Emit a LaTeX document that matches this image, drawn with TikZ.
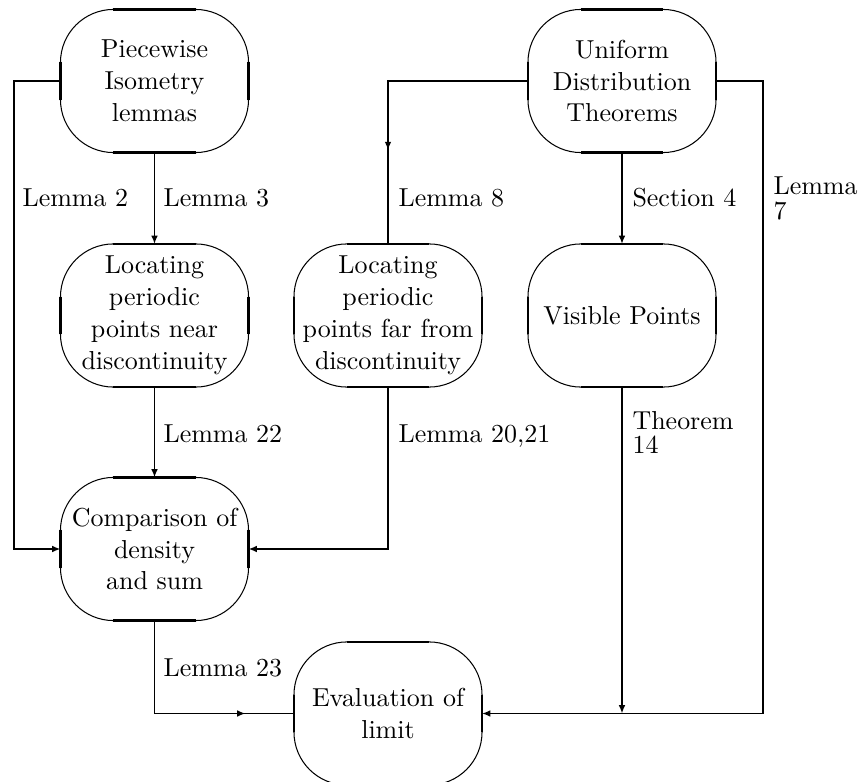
\documentclass[tikz,border=0pt]{standalone}
\usetikzlibrary{arrows.meta,decorations.markings}
\begin{document}
\begin{tikzpicture}[x=0.385pt,y=-0.385pt,
  box/.style={minimum width=72pt,minimum height=54.7pt,inner sep=0pt,align=center,font=\fontsize{10}{12.3}\selectfont},
  conn/.style={line width=0.7pt},
  tip/.style={-{Latex[length=3.2pt,width=2.6pt]}},
  midtip/.style={postaction={decorate,decoration={markings,mark=at position #1 with {\arrow{Latex[length=3.2pt,width=2.6pt]}}}}},
  lab/.style={inner sep=0pt,anchor=base west,font=\fontsize{10}{12}\selectfont},
  arcline/.style={line width=0.4pt},
  flat/.style={line width=1.1pt}
]
\useasboundingbox (0,0) rectangle (860,782);
\node[box] (pw)  at (154.5,81)   {Piecewise\\Isometry\\lemmas};
\node[box] (ud)  at (622,81)     {Uniform\\Distribution\\Theorems};
\node[box] (ln)  at (154.5,315.5){Locating\\periodic\\points near\\discontinuity};
\node[box] (lf)  at (388,315.5)  {Locating\\periodic\\points far from\\discontinuity};
\node[box] (vp)  at (622,315.5)  {Visible Points};
\node[box] (cmp) at (154.5,549)  {Comparison of\\density\\and sum};
\node[box] (ev)  at (388,713.5)  {Evaluation of\\limit};
\foreach \n in {pw,ud,ln,lf,vp,cmp,ev}{
  \draw[arcline,rounded corners=20.4pt] (\n.south west) rectangle (\n.north east);
  \draw[flat] ([xshift=20.4pt]\n.north west) -- ([xshift=-20.4pt]\n.north east)
     ([xshift=20.4pt]\n.south west) -- ([xshift=-20.4pt]\n.south east)
     ([yshift=-20.4pt]\n.north west) -- ([yshift=20.4pt]\n.south west)
     ([yshift=-20.4pt]\n.north east) -- ([yshift=20.4pt]\n.south east);
}
\coordinate (l2) at (14,81);
\coordinate (l8) at (388,81);
\coordinate (l7) at (763,81);
\draw[conn,tip] (pw.west) -- (l2) |- (cmp.west);
\draw[conn,tip] (pw.south) -- (ln.north);
\draw[conn,midtip=80.5pt] (ud.west) -- (l8) -- (lf.north);
\draw[conn,tip] (ud.south) -- (vp.north);
\draw[conn,tip] (ud.east) -- (l7) |- (ev.east);
\draw[conn,tip] (ln.south) -- (cmp.north);
\draw[conn,tip] (lf.south) |- (cmp.east);
\draw[conn,tip] (vp.south) -- (vp.south |- ev.east);
\draw[conn,midtip=70.8pt] (cmp.south) |- (ev.west);
\node[lab] (t2) at (22,206) {Lemma 2};
\node[lab] (t3) at (163,206) {Lemma 3};
\node[lab] (t8) at (398,206) {Lemma 8};
\node[lab] (ts4) at (632,206) {Section 4};
\node[lab] (t7) at (773,195) {\vtop{\baselineskip=9.3pt\hbox{Lemma}\hbox{7}}};
\node[lab] (t22) at (163,442) {Lemma 22};
\node[lab] (t2021) at (398,442) {Lemma 20,21};
\node[lab] (t14) at (632,429) {\vtop{\baselineskip=9.5pt\hbox{Theorem}\hbox{14}}};
\node[lab] (t23) at (163,676) {Lemma 23};
\end{tikzpicture}
\end{document}
